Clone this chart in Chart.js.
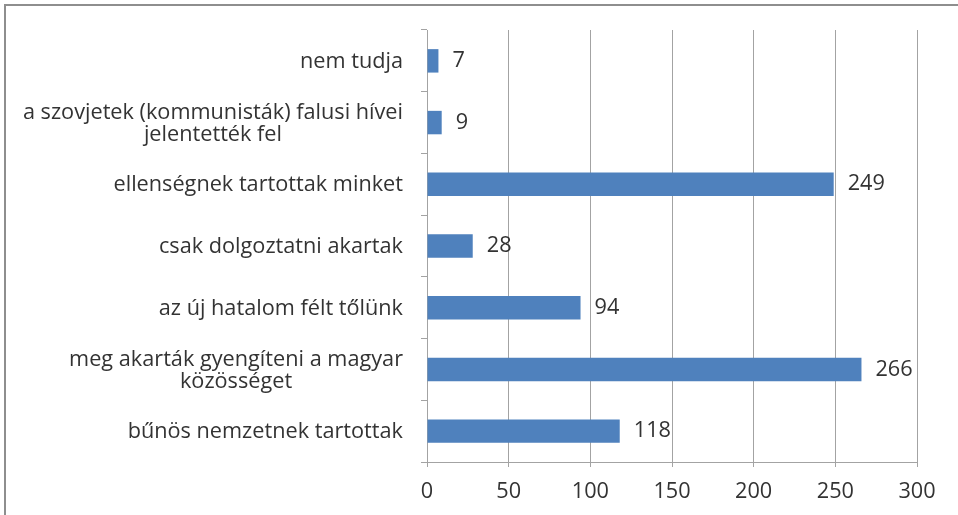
<!DOCTYPE html>
<html lang="hu">
<head>
    <meta charset="UTF-8">
    <title>Okok</title>
    <script src="https://cdn.jsdelivr.net/npm/chart.js"></script>
    <style>
        html, body { margin: 0; padding: 0; background: #fff; overflow: hidden; }
        .wrap { position: relative; width: 958px; height: 515px; }
        .keret { position: absolute; left: 4px; top: 4px; width: 1000px; height: 600px;
                 border-left: 2px solid #8e8e8e; border-top: 2px solid #8e8e8e; }
        canvas { position: absolute; left: 0; top: 0; }
    </style>
</head>
<body>
<div class="wrap">
    <div class="keret"></div>
    <canvas id="grafikon" width="958" height="515"></canvas>
</div>
<script>
    // kategóriák (fentről lefelé), több soros címkék tömbként
    const kategoriak = [
        ['nem tudja'],
        ['a szovjetek (kommunisták) falusi hívei', 'jelentették fel'],
        ['ellenségnek tartottak minket'],
        ['csak dolgoztatni akartak'],
        ['az új hatalom félt tőlünk'],
        ['meg akarták gyengíteni a magyar', 'közösséget'],
        ['bűnös nemzetnek tartottak']
    ];
    const ertekek = [7, 9, 249, 28, 94, 266, 118];
    const xTickek = [0, 50, 100, 150, 200, 250, 300];

    const betu = '21.7px "Open Sans"';
    const szin = '#333333';
    const racsSzin = '#a3a3a3';

    // értékek a sávok végén + kategóriacímkék középre zárt blokkban
    const feliratok = {
        id: 'feliratok',
        afterDatasetsDraw(chart) {
            const ctx = chart.ctx;
            const y = chart.scales.y;
            ctx.save();
            ctx.font = betu;
            ctx.fillStyle = szin;
            ctx.textBaseline = 'middle';
            ctx.textAlign = 'left';
            chart.getDatasetMeta(0).data.forEach((bar, i) => {
                ctx.fillText(String(ertekek[i]), bar.x + 14, bar.y);
            });
            ctx.textAlign = 'center';
            kategoriak.forEach((sorok, i) => {
                const yc = y.getPixelForTick(i) + 1;
                const w = Math.max(...sorok.map(s => ctx.measureText(s).width));
                const cx = y.right - 24 - w / 2;
                sorok.forEach((s, j) => {
                    ctx.fillText(s, cx, yc + (j - (sorok.length - 1) / 2) * 22);
                });
            });
            ctx.restore();
        }
    };

    new Chart(document.getElementById('grafikon'), {
        type: 'bar',
        data: {
            labels: kategoriak,
            datasets: [{
                data: ertekek,
                backgroundColor: '#4f81bd',
                borderWidth: 0,
                barPercentage: 0.38,
                categoryPercentage: 1
            }]
        },
        options: {
            indexAxis: 'y',
            responsive: false,
            animation: false,
            events: [],
            layout: { padding: { top: 30, right: 41, bottom: 0, left: 0 } },
            plugins: { legend: { display: false }, tooltip: { enabled: false } },
            scales: {
                x: {
                    min: 0,
                    max: 300,
                    afterBuildTicks: s => { s.ticks = xTickek.map(v => ({ value: v })); },
                    afterFit: s => { s.height = 53; },
                    grid: { color: racsSzin, lineWidth: 1, tickLength: 5 },
                    border: { color: racsSzin, width: 1 },
                    ticks: { font: { family: 'Open Sans', size: 21.7, lineHeight: 1.02 }, color: szin, padding: 14 }
                },
                y: {
                    afterFit: s => { s.width = 427; },
                    grid: { drawOnChartArea: false, color: racsSzin, tickLength: 6 },
                    border: { color: racsSzin, width: 1 },
                    ticks: { font: { family: 'Open Sans', size: 21.7, lineHeight: 1.02 }, color: 'rgba(0,0,0,0)', padding: 18 }
                }
            }
        },
        plugins: [feliratok]
    });
</script>
</body>
</html>
